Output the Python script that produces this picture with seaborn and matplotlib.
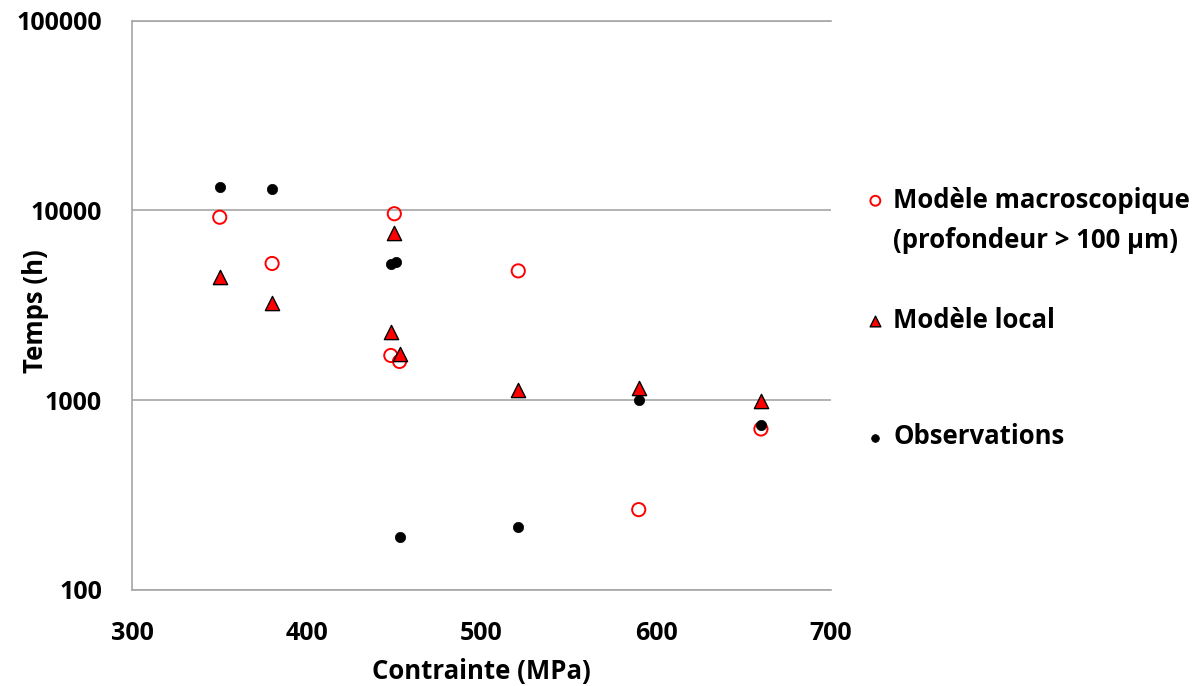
import numpy as np
import pandas as pd
import matplotlib
matplotlib.use("Agg")
import matplotlib.pyplot as plt
from matplotlib.lines import Line2D
import seaborn as sns

# Data
macro_x = [350, 380, 450, 448, 453, 521, 590, 660]
macro_y = [9200, 5250, 9600, 1720, 1600, 4800, 265, 705]

local_x = [350, 380, 450, 448, 453, 521, 590, 660]
local_y = [4450, 3250, 7600, 2300, 1760, 1135, 1155, 990]

obs_x = [350, 380, 448, 451, 453, 521, 590, 660]
obs_y = [13300, 12900, 5200, 5350, 191, 215, 1000, 743]

labels = ["Modèle macroscopique", "Modèle local", "Observations"]
label_extra = "(profondeur > 100 µm)"
x_ticks = [300, 400, 500, 600, 700]
y_ticks = [100, 1000, 10000, 100000]

sns.set_style("white")
plt.rcParams["font.family"] = ["Open Sans", "DejaVu Sans"]
plt.rcParams["font.weight"] = "bold"
plt.rcParams["text.color"] = "black"
plt.rcParams["xtick.color"] = "black"
plt.rcParams["ytick.color"] = "black"
plt.rcParams["axes.labelcolor"] = "black"

fig = plt.figure(figsize=(12.04, 6.86), dpi=100)
ax = fig.add_axes([0.110, 0.140, 0.580, 0.830])

sns.scatterplot(x=macro_x, y=macro_y, ax=ax, marker="o", s=90,
                facecolor="none", edgecolor="#ff0000", linewidth=1.4,
                label=labels[0], zorder=3)
sns.scatterplot(x=local_x, y=local_y, ax=ax, marker="^", s=105,
                color="#ff0000", edgecolor="black", linewidth=1.0,
                label=labels[1], zorder=4)
sns.scatterplot(x=obs_x, y=obs_y, ax=ax, marker="o", s=55,
                color="black", edgecolor="black", linewidth=0.5,
                label=labels[2], zorder=5)
handles, _ = ax.get_legend_handles_labels()
ax.get_legend().remove()

ax.set_yscale("log")
ax.set_xlim(300, 700)
ax.set_ylim(100, 100000)
ax.set_xticks(x_ticks)
ax.set_xticklabels([str(v) for v in x_ticks])
ax.set_yticks(y_ticks)
ax.set_yticklabels([str(v) for v in y_ticks])
ax.minorticks_off()
ax.tick_params(axis="both", length=0, labelsize=18, pad=22)

ax.yaxis.grid(True, color="#a6a6a6", linewidth=1.2)
ax.xaxis.grid(False)
for side in ["left", "bottom", "top"]:
    ax.spines[side].set_color("#a6a6a6")
    ax.spines[side].set_linewidth(1.2)
ax.spines["right"].set_visible(False)

ax.set_xlabel("Contrainte (MPa)", fontsize=18.5, fontweight="bold", labelpad=9)
ax.set_ylabel("Temps (h)", fontsize=18.5, fontweight="bold")
ax.yaxis.set_label_coords(-0.12, 0.49)

# legend rows placed like the original (marker on the first line only)
blank = Line2D([], [], linestyle="none")
rows = [(handles[0], labels[0], 200), (blank, label_extra, 241),
        (handles[1], labels[1], 320), (handles[2], labels[2], 437)]
for h, lab, ypx in rows:
    fig.legend(handles=[h], labels=[lab], loc="center left",
               bbox_to_anchor=(862.5 / 1204, 1 - ypx / 686),
               frameon=False, handletextpad=0.2,
               handlelength=1.0, borderpad=0, borderaxespad=0,
               markerscale=0.75, prop={"weight": "bold", "size": 18.5})

fig.savefig("out.png", dpi=100)
